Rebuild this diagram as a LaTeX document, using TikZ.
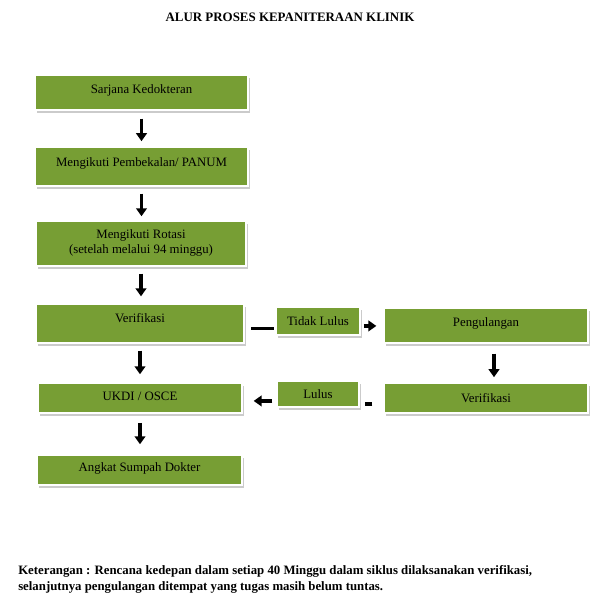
\documentclass[tikz,border=0pt]{standalone}
\usepackage{fontspec}
\setmainfont{Liberation Serif}
\usetikzlibrary{arrows.meta,shadows}
\definecolor{boxgreen}{RGB}{119,158,52}
\begin{document}
\begin{tikzpicture}[x=0.75pt,y=-0.75pt,
  box/.style={rectangle, fill=boxgreen, draw=white, line width=1.1pt, inner sep=0pt,
    drop shadow={shadow xshift=1.4pt, shadow yshift=-2pt, fill=black!45, opacity=0.45}},
  txt/.style={font=\fontsize{9.6}{11.6}\selectfont, align=center, inner sep=0pt},
  arr/.style={line width=2.6pt, -{Triangle[width=8pt,length=6pt]}},
  bar/.style={line width=2.4pt}]
\fill[white] (0,0) rectangle (600,609);
\useasboundingbox (0,0) rectangle (600,609);

\node[font=\bfseries\fontsize{9.7}{12}\selectfont, inner sep=0pt] (title) at (290,17) {ALUR PROSES KEPANITERAAN KLINIK};

% left column boxes
\node[box, minimum width=159.75pt, minimum height=26.25pt] (b1) at (141.5,92.5) {};
\node[box, minimum width=159.75pt, minimum height=29.25pt] (b2) at (141.5,166.5) {};
\node[box, minimum width=157.5pt, minimum height=33.75pt] (b3) at (141,243.5) {};
\node[box, minimum width=156pt, minimum height=29.25pt] (v1) at (140,323.5) {};
\node[box, minimum width=153pt, minimum height=22.5pt] (uk) at (140,398) {};
\node[box, minimum width=153.75pt, minimum height=22.5pt] (as) at (139.5,470) {};
% middle
\node[box, minimum width=63pt, minimum height=21pt] (tl) at (318,321) {};
\node[box, minimum width=61.5pt, minimum height=19.5pt] (lu) at (318,394) {};
% right
\node[box, minimum width=153pt, minimum height=26.25pt] (pg) at (486,325.5) {};
\node[box, minimum width=153pt, minimum height=22.5pt] (v2) at (486,398) {};

% texts
\node[txt] (b1t) at ([yshift=1.6pt]b1.center) {Sarjana Kedokteran};
\node[txt] (b2t) at ([yshift=2pt]b2.center) {Mengikuti Pembekalan/ PANUM};
\node[txt] (b3t) at ([yshift=0.3pt]b3.center) {Mengikuti Rotasi\\(setelah melalui 94 minggu)};
\node[txt] (v1t) at ([yshift=3.8pt]v1.center) {Verifikasi};
\node[txt] (ukt) at ([yshift=1.4pt]uk.center) {UKDI / OSCE};
\node[txt] (ast) at ([yshift=0.8pt]as.center) {Angkat Sumpah Dokter};
\node[txt] (tlt) at (tl.center) {Tidak Lulus};
\node[txt] (lut) at (lu.center) {Lulus};
\node[txt] (pgt) at ([yshift=1.8pt]pg.center) {Pengulangan};
\node[txt] (v2t) at (v2.center) {Verifikasi};

% vertical arrows
\draw[arr, shorten <=6pt, shorten >=3.8pt] (b1.south) -- (b1.south |- b2.north);
\draw[arr, shorten <=5.2pt, shorten >=3pt] (b2.south) -- (b2.south |- b3.north);
\draw[arr, shorten <=5.2pt, shorten >=5.2pt] (b3.south) -- (b3.south |- v1.north);
\draw[arr, shorten <=5.2pt, shorten >=6pt] (v1.south) -- (v1.south |- uk.north);
\draw[arr, shorten <=6.8pt, shorten >=7.5pt] (uk.south) -- (uk.south |- as.north);
\draw[arr, shorten <=7.5pt, shorten >=3.8pt] ([xshift=6pt]pg.south) -- ([xshift=6pt]pg.south |- v2.north);

% horizontal connectors
\draw[bar, shorten <=5pt, shorten >=0.8pt] ([yshift=-3.7pt]v1.east) -- ([yshift=-3.7pt]v1.east -| tl.west);
\draw[arr, shorten <=2.3pt, shorten >=5.2pt] ([yshift=-3.7pt]tl.east) -- ([yshift=-3.7pt]tl.east -| pg.west);
\draw[bar, shorten <=8.2pt, shorten >=3.8pt] ([yshift=-4.5pt]v2.west) -- ([yshift=-4.5pt]v2.west -| lu.east);
\draw[arr, shorten <=3pt, shorten >=8.2pt] ([yshift=-5.2pt]lu.west) -- ([yshift=-5.2pt]lu.west -| uk.east);

\node[anchor=north west, align=left, inner sep=0pt,
  font=\bfseries\fontsize{9.6}{12}\selectfont] (ket) at (18,565)
  {Keterangan : Rencana kedepan dalam setiap 40 Minggu dalam siklus dilaksanakan verifikasi,\\
   selanjutnya pengulangan ditempat yang tugas masih belum tuntas.};
\end{tikzpicture}
\end{document}
